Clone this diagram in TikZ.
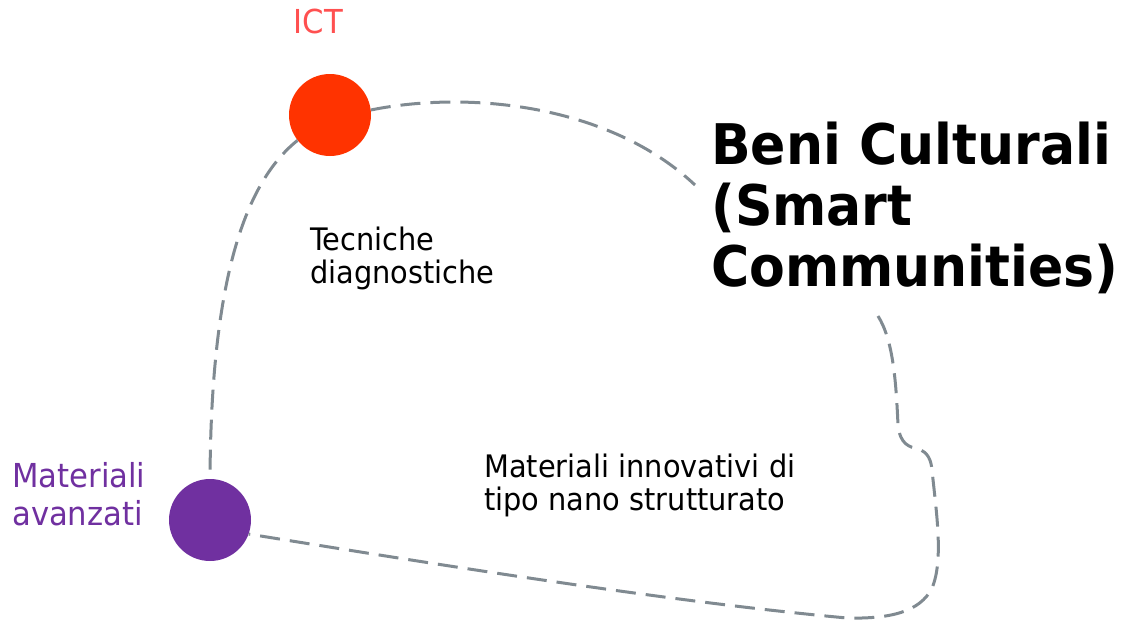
\documentclass[tikz,border=0pt]{standalone}
\usepackage{fontspec}
\setmainfont{DejaVu Sans}[FakeStretch=0.93]
\usepackage{xcolor}
\usepackage{tikz}
\usetikzlibrary{positioning}
\definecolor{ictred}{RGB}{255,51,0}
\definecolor{icttext}{RGB}{255,80,80}
\definecolor{matpurple}{RGB}{112,48,160}
\definecolor{linkgray}{RGB}{128,138,145}
\tikzstyle{dot} = [circle, minimum size=82pt, inner sep=0pt, draw=none]
\tikzstyle{caption} = [inner sep=0pt, align=left, anchor=north west, font=\fontsize{31}{33}\selectfont]
\tikzstyle{label} = [inner sep=0pt, align=left, font=\fontsize{33}{38}\selectfont]
\tikzstyle{link} = [draw=linkgray, line width=3pt, dash pattern=on 20pt off 10pt]

\begin{document}
\begin{tikzpicture}[x=1pt, y=-1pt]
    \useasboundingbox (0,0) rectangle (1138,621);
    \node (ict) [dot, fill=ictred] at (330,115) {};
    \node (mat) [dot, fill=matpurple] at (210,520) {};
    \node (ictlabel) [label, text=icttext, anchor=base] at (318.5,33) {ICT};
    \node (matlabel) [label, text=matpurple, anchor=north west] at (12,462) {Materiali\\avanzati};
    \node (beni) [inner sep=0pt, align=left, anchor=north west, font=\fontsize{56}{61}\selectfont\bfseries] at (711,122) {Beni Culturali\\(Smart\\Communities)};
    \node (tecniche) [caption] at (310,227) {Tecniche\\diagnostiche};
    \node (nano) [caption] at (484,454) {Materiali innovativi di\\tipo nano strutturato};
    \coordinate (benitop) at (695,185);
    \coordinate (benibot) at (878,316);
    \draw [link] (ict.218) .. controls (238,188) and (211,300) .. (mat.north);
    \draw [link] (ict.7) .. controls (470,90) and (610,105) .. (benitop);
    \draw [link] (benibot) .. controls (893,340) and (896,380) .. (898,425)
        .. controls (900,445) and (910,447) .. (918,449)
        .. controls (928,452) and (931,460) .. (932,470)
        .. controls (936,510) and (944,560) .. (932,588)
        .. controls (920,612) and (890,619) .. (847,618)
        .. controls (650,600) and (380,555) .. (mat.-20);
\end{tikzpicture}
\end{document}
